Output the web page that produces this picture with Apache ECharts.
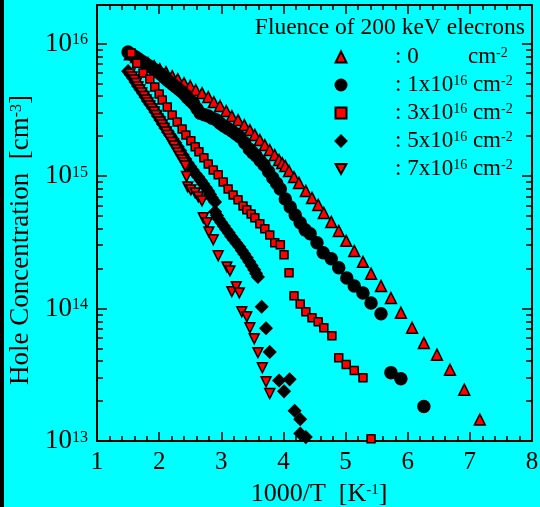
<!DOCTYPE html>
<html>
<head>
<meta charset="utf-8">
<script src="https://cdn.jsdelivr.net/npm/echarts@6/dist/echarts.min.js"></script>
<style>
  html, body { margin: 0; padding: 0; background: #00ffff; }
  #chart { width: 540px; height: 507px; }
</style>
</head>
<body>
<div id="chart"></div>
<script>
// [1000/T (1/K), hole concentration (cm^-3)]
const fluence0 = [
  [1.53, 8.3e15], [1.63, 7.9e15], [1.72, 7.5e15], [1.82, 7.1e15], [1.92, 6.75e15], [2.01, 6.4e15],
  [2.11, 6.08e15], [2.21, 5.67e15], [2.30, 5.38e15], [2.40, 5.02e15], [2.50, 4.77e15], [2.59, 4.45e15],
  [2.69, 4.22e15], [2.79, 3.94e15], [2.88, 3.61e15], [2.98, 3.37e15], [3.08, 3.09e15], [3.17, 2.83e15],
  [3.27, 2.64e15], [3.37, 2.42e15], [3.46, 2.22e15], [3.54, 2.04e15], [3.62, 1.87e15], [3.70, 1.71e15],
  [3.78, 1.57e15], [3.86, 1.44e15], [3.93, 1.32e15], [3.98, 1.25e15], [4.03, 1.19e15], [4.09, 1.09e15],
  [4.17, 9.8e14], [4.25, 8.86e14], [4.36, 7.71e14], [4.46, 6.83e14], [4.56, 6.05e14], [4.65, 5.26e14],
  [4.77, 4.5e14], [4.89, 3.85e14], [5.01, 3.24e14], [5.14, 2.72e14], [5.28, 2.25e14], [5.41, 1.83e14],
  [5.57, 1.48e14], [5.73, 1.2e14], [5.89, 9.3e13], [6.07, 7.15e13], [6.26, 5.5e13], [6.47, 4.48e13],
  [6.68, 3.45e13], [6.91, 2.44e13], [7.16, 1.45e13]
];
const fluence1e16 = [
  [1.50, 8.6e15], [1.55, 8.3e15], [1.60, 8.02e15], [1.645, 7.75e15], [1.69, 7.5e15], [1.74, 7.23e15],
  [1.79, 6.98e15], [1.84, 6.75e15], [1.89, 6.52e15], [1.935, 6.3e15], [1.98, 6.08e15], [2.03, 5.82e15],
  [2.08, 5.57e15], [2.125, 5.33e15], [2.17, 5.11e15], [2.22, 4.9e15], [2.27, 4.69e15], [2.32, 4.49e15],
  [2.37, 4.3e15], [2.415, 4.1e15], [2.46, 3.87e15], [2.51, 3.68e15], [2.56, 3.49e15], [2.61, 3.22e15],
  [2.66, 2.98e15], [2.725, 2.9e15], [2.79, 2.83e15], [2.855, 2.73e15], [2.92, 2.64e15], [2.98, 2.5e15],
  [3.04, 2.38e15], [3.105, 2.28e15], [3.17, 2.18e15], [3.235, 2.07e15], [3.30, 1.97e15], [3.375, 1.78e15],
  [3.45, 1.6e15], [3.505, 1.5e15], [3.56, 1.42e15], [3.625, 1.31e15], [3.69, 1.21e15], [3.76, 1.08e15],
  [3.83, 9.66e14], [3.89, 8.8e14], [3.95, 7.98e14], [4.03, 6.71e14], [4.11, 5.84e14], [4.19, 5.08e14],
  [4.27, 4.43e14], [4.35, 3.92e14], [4.43, 3.66e14], [4.54, 3.13e14], [4.64, 2.63e14], [4.77, 2.37e14],
  [4.89, 2.03e14], [5.02, 1.70e14], [5.14, 1.48e14], [5.28, 1.31e14], [5.41, 1.1e14], [5.57, 9.12e13],
  [5.73, 3.28e13], [5.89, 2.95e13], [6.26, 1.82e13]
];
const fluence3e16 = [
  [1.55, 8.45e15], [1.64, 7.1e15], [1.74, 5.97e15], [1.85, 5.38e15], [1.93, 4.69e15], [2.00, 4.15e15],
  [2.05, 3.74e15], [2.13, 3.31e15], [2.21, 2.88e15], [2.29, 2.55e15], [2.37, 2.26e15], [2.43, 2.04e15],
  [2.51, 1.84e15], [2.58, 1.66e15], [2.64, 1.52e15], [2.72, 1.37e15], [2.79, 1.23e15], [2.87, 1.11e15],
  [2.95, 1.02e15], [3.03, 9.02e14], [3.11, 7.98e14], [3.19, 7.19e14], [3.27, 6.6e14], [3.35, 5.94e14],
  [3.41, 5.55e14], [3.48, 5.17e14], [3.54, 4.83e14], [3.62, 4.35e14], [3.70, 3.99e14], [3.78, 3.59e14],
  [3.86, 3.13e14], [3.95, 3.02e14], [4.01, 2.54e14], [4.09, 1.86e14], [4.17, 1.25e14], [4.27, 1.08e14],
  [4.36, 9.45e13], [4.46, 8.51e13], [4.56, 7.94e13], [4.65, 7.15e13], [4.78, 6.23e13], [4.89, 4.25e13],
  [5.01, 3.77e13], [5.14, 3.4e13], [5.28, 3.0e13], [5.41, 1.04e13]
];
const fluence5e16 = [
  [1.50, 6.18e15], [1.54, 5.82e15], [1.58, 5.48e15], [1.62, 5.11e15], [1.66, 4.77e15], [1.70, 4.49e15],
  [1.74, 4.22e15], [1.78, 3.94e15], [1.82, 3.67e15], [1.86, 3.46e15], [1.90, 3.26e15], [1.94, 3.04e15],
  [1.98, 2.83e15], [2.02, 2.64e15], [2.06, 2.47e15], [2.10, 2.3e15], [2.14, 2.15e15], [2.18, 2.02e15],
  [2.22, 1.9e15], [2.26, 1.78e15], [2.30, 1.66e15], [2.34, 1.55e15], [2.38, 1.44e15], [2.42, 1.34e15],
  [2.46, 1.25e15], [2.50, 1.18e15], [2.54, 1.11e15], [2.585, 1.04e15], [2.63, 9.8e14], [2.67, 9.23e14],
  [2.71, 8.7e14], [2.75, 8.19e14], [2.79, 7.71e14], [2.82, 7.26e14], [2.85, 6.83e14], [2.90, 6.37e14],
  [2.90, 5.36e14], [2.93, 5.04e14], [2.96, 4.74e14], [3.00, 4.46e14], [3.04, 4.2e14], [3.08, 3.95e14],
  [3.12, 3.72e14], [3.16, 3.5e14], [3.20, 3.3e14], [3.245, 3.1e14], [3.29, 2.92e14], [3.33, 2.74e14],
  [3.37, 2.58e14], [3.41, 2.41e14], [3.45, 2.25e14], [3.49, 2.1e14], [3.53, 1.96e14], [3.56, 1.84e14],
  [3.59, 1.73e14], [3.65, 1.03e14], [3.72, 7.1e13], [3.78, 4.7e13], [3.93, 2.86e13], [4.01, 2.37e13],
  [4.10, 2.92e13], [4.18, 1.69e13], [4.27, 1.46e13], [4.27, 1.14e13], [4.36, 1.07e13]
];
const fluence7e16 = [
  [1.53, 5.87e15], [1.565, 5.57e15], [1.60, 5.29e15], [1.63, 4.98e15], [1.66, 4.69e15], [1.69, 4.45e15],
  [1.72, 4.22e15], [1.755, 3.97e15], [1.79, 3.74e15], [1.82, 3.55e15], [1.85, 3.37e15], [1.885, 3.2e15],
  [1.92, 3.04e15], [1.95, 2.86e15], [1.98, 2.69e15], [2.015, 2.55e15], [2.05, 2.42e15], [2.08, 2.28e15],
  [2.11, 2.15e15], [2.14, 2.02e15], [2.17, 1.9e15], [2.205, 1.79e15], [2.24, 1.68e15], [2.27, 1.58e15],
  [2.30, 1.49e15], [2.335, 1.4e15], [2.37, 1.32e15], [2.395, 1.25e15], [2.42, 1.19e15], [2.44, 9.9e14],
  [2.46, 8.27e14], [2.51, 7.85e14], [2.58, 7.45e14], [2.63, 6.95e14], [2.69, 6.48e14], [2.71, 4.83e14],
  [2.77, 4.43e14], [2.80, 3.78e14], [2.87, 3.3e14], [2.95, 2.5e14], [3.09, 2.06e14], [3.14, 1.92e14],
  [3.17, 1.34e14], [3.24, 1.46e14], [3.29, 1.31e14], [3.33, 9.45e13], [3.41, 8.66e13], [3.46, 7.15e13],
  [3.53, 5.91e13], [3.59, 4.64e13], [3.66, 3.57e13], [3.72, 2.8e13], [3.78, 2.28e13]
];

const legendTitle = "Fluence of 200 keV elecrons";
const seriesNames = ["f0", "f1", "f3", "f5", "f7"];
const legendLabels = {
  f0: "{c0|: 0}{t|cm}{s|-2}",
  f1: "{c|: 1x10}{s|16}{t| cm}{s|-2}",
  f3: "{c|: 3x10}{s|16}{t| cm}{s|-2}",
  f5: "{c|: 5x10}{s|16}{t| cm}{s|-2}",
  f7: "{c|: 7x10}{s|16}{t| cm}{s|-2}",
};
const xMin = 1;
const xMax = 8;
const yDecades = [13, 14, 15, 16];
const yMinorFactors = [2, 3, 4, 5, 6, 7, 8, 9];
const yMinLog = 13;
const yMaxLog = 16.29;

const FONT = "Liberation Serif";
const RED = "#ff0000";
// legend icon for the upside-down triangle series
const DOWN_TRIANGLE = "path://M0,0L10,0L5,9Z";

const toLog = (data) => data.map(([x, y]) => [x, Math.log10(y)]);

const yMinorTicks = [];
yDecades.forEach((d) => {
  yMinorFactors.forEach((k) => {
    const v = d + Math.log10(k);
    if (v < yMaxLog) yMinorTicks.push(v);
  });
});

// base text + superscript, used for tick labels and axis names
function supRich(size, supSize) {
  return {
    b: { fontFamily: FONT, fontSize: size, lineHeight: size, verticalAlign: "bottom", padding: [6, 0, 0, 0], color: "#000" },
    s: { fontFamily: FONT, fontSize: supSize, lineHeight: supSize, verticalAlign: "top", padding: [2, 0, 0, 0], color: "#000" },
  };
}

const chart = echarts.init(document.getElementById("chart"), null, { renderer: "canvas" });

const frameLine = { show: true, onZero: false, lineStyle: { color: "#000", width: 2 } };
const tickStyle = { color: "#000", width: 1.5 };

function scatter(name, data, symbol, size, fill, opts = {}) {
  return {
    name,
    type: "scatter",
    xAxisIndex: 0,
    yAxisIndex: 0,
    data: toLog(data),
    symbol,
    symbolSize: size,
    itemStyle: { color: fill, borderColor: "#000", borderWidth: 1.5, opacity: 1 },
    emphasis: { disabled: true },
    ...opts,
  };
}

chart.setOption({
  backgroundColor: "#00ffff",
  animation: false,
  title: {
    text: legendTitle,
    right: 10,
    top: 11,
    textStyle: { fontFamily: FONT, fontSize: 23.5, fontWeight: "normal", color: "#000" },
  },
  legend: {
    orient: "vertical",
    left: 329.5,
    top: 36,
    itemWidth: 11,
    itemHeight: 11,
    itemGap: 1,
    selectedMode: false,
    data: seriesNames.map((n) => (n === "f7" ? { name: n, icon: DOWN_TRIANGLE } : { name: n })),
    formatter: (name) => legendLabels[name],
    textStyle: {
      color: "#000",
      rich: {
        c: { fontFamily: FONT, fontSize: 23, lineHeight: 22, verticalAlign: "bottom", padding: [4, 0, 0, 43.5] },
        c0: { fontFamily: FONT, fontSize: 23, lineHeight: 22, verticalAlign: "bottom", padding: [4, 0, 0, 43.5], width: 73 },
        t: { fontFamily: FONT, fontSize: 23, lineHeight: 22, verticalAlign: "bottom", padding: [4, 0, 0, 0] },
        s: { fontFamily: FONT, fontSize: 14, lineHeight: 14, verticalAlign: "top" },
      },
    },
  },
  graphic: [
    { type: "rect", left: 0, top: 0, shape: { width: 4, height: 507 }, style: { fill: "#000" } },
  ],
  grid: [
    { left: 97, right: 8, top: 5, bottom: 66, outerBoundsMode: "none" },
    { left: 97, right: 8, top: 5, bottom: 66, outerBoundsMode: "none" },
  ],
  xAxis: [
    {
      type: "value", gridIndex: 0, position: "bottom", min: xMin, max: xMax, interval: 1,
      axisLine: frameLine,
      axisTick: { show: true, inside: true, length: 9, lineStyle: tickStyle },
      minorTick: { show: true, splitNumber: 5, length: 5, lineStyle: tickStyle },
      splitLine: { show: false },
      axisLabel: { color: "#000", fontFamily: FONT, fontSize: 25, margin: 9 },
      name: "{b|1000/T  [K}{s|-1}{b|]}",
      nameLocation: "middle",
      nameGap: 40,
      nameMoveOverlap: false,
      nameTextStyle: { rich: supRich(26, 15), padding: [0, 0, 0, 9] },
    },
    {
      type: "value", gridIndex: 0, position: "top", min: xMin, max: xMax, interval: 1,
      axisLine: frameLine,
      axisTick: { show: true, inside: true, length: 9, lineStyle: tickStyle },
      minorTick: { show: true, splitNumber: 5, length: 5, lineStyle: tickStyle },
      splitLine: { show: false },
      axisLabel: { show: false },
    },
    { type: "value", gridIndex: 1, min: xMin, max: xMax, show: false },
  ],
  yAxis: [
    {
      type: "value", gridIndex: 0, position: "left", min: yMinLog, max: yMaxLog,
      axisLine: frameLine,
      axisTick: { show: true, inside: true, length: 10, customValues: yDecades, lineStyle: tickStyle },
      splitLine: { show: false },
      axisLabel: {
        customValues: yDecades,
        margin: 9,
        formatter: (v) => "{b|10}{s|" + Math.round(v) + "}",
        rich: supRich(27, 16),
      },
      name: "{b|Hole Concentration  [cm}{s|-3}{b|]}",
      nameLocation: "middle",
      nameGap: 60,
      nameTextStyle: { rich: supRich(27, 16), padding: [0, 34, 0, 0] },
    },
    {
      type: "value", gridIndex: 0, position: "right", min: yMinLog, max: yMaxLog,
      axisLine: frameLine,
      axisTick: { show: true, inside: true, length: 10, customValues: yDecades, lineStyle: tickStyle },
      splitLine: { show: false },
      axisLabel: { show: false },
    },
    {
      type: "value", gridIndex: 1, position: "left", min: yMinLog, max: yMaxLog,
      axisLine: { show: false },
      axisTick: { show: true, inside: true, length: 6, customValues: yMinorTicks, lineStyle: tickStyle },
      splitLine: { show: false },
      axisLabel: { show: false },
    },
    {
      type: "value", gridIndex: 1, position: "right", min: yMinLog, max: yMaxLog,
      axisLine: { show: false },
      axisTick: { show: true, inside: true, length: 6, customValues: yMinorTicks, lineStyle: tickStyle },
      splitLine: { show: false },
      axisLabel: { show: false },
    },
  ],
  series: [
    scatter("f0", fluence0, "triangle", 11, RED),
    scatter("f1", fluence1e16, "circle", 12, "#000"),
    scatter("f3", fluence3e16, "rect", 8, RED),
    scatter("f5", fluence5e16, "diamond", 12, "#000"),
    scatter("f7", fluence7e16, "triangle", 10, RED, { symbolRotate: 180 }),
  ],
});
</script>
</body>
</html>
